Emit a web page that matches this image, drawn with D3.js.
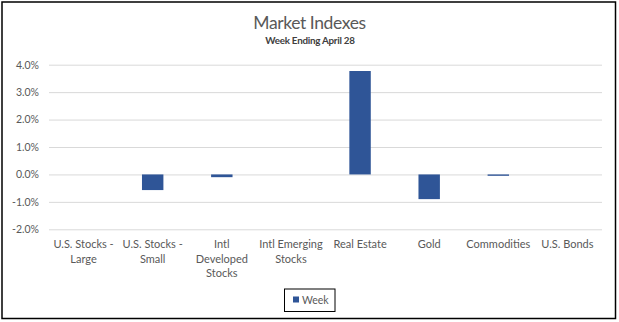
<!DOCTYPE html>
<html>
<head>
<meta charset="utf-8">
<script src="https://cdn.jsdelivr.net/npm/d3@7"></script>
<style>
  html, body { margin: 0; padding: 0; background: #fff; }
  svg { display: block; }
  text { font-family: Lato, "Open Sans", sans-serif; }
</style>
</head>
<body>
<svg id="chart" width="619" height="322"></svg>
<script>
// Weekly returns by asset class (percent)
const categories = [
  "U.S. Stocks - Large",
  "U.S. Stocks - Small",
  "Intl Developed Stocks",
  "Intl Emerging Stocks",
  "Real Estate",
  "Gold",
  "Commodities",
  "U.S. Bonds"
];
const categoryLines = [
  ["U.S. Stocks -", "Large"],
  ["U.S. Stocks -", "Small"],
  ["Intl", "Developed", "Stocks"],
  ["Intl Emerging", "Stocks"],
  ["Real Estate"],
  ["Gold"],
  ["Commodities"],
  ["U.S. Bonds"]
];
const weekValues = [0.0, -0.57, -0.10, 0.0, 3.77, -0.90, -0.05, 0.0];
const yTicks = [-2, -1, 0, 1, 2, 3, 4];
const seriesName = "Week";

const svg = d3.select("#chart");
const plot = { left: 49, right: 602, top: 64.7, bottom: 229.3 };

const x = d3.scaleBand()
  .domain(categories)
  .range([plot.left, plot.right])
  .paddingInner(0.69)
  .paddingOuter(0.345);

const y = d3.scaleLinear()
  .domain([-2, 4])
  .range([plot.bottom, plot.top]);

// outer frame
svg.append("rect")
  .attr("x", 2).attr("y", 2)
  .attr("width", 613.5).attr("height", 316.5)
  .attr("fill", "#fff")
  .attr("stroke", "#000")
  .attr("stroke-width", 1.5);

// titles
svg.append("text")
  .attr("x", 309.5).attr("y", 28.5)
  .attr("text-anchor", "middle")
  .attr("font-size", 17.5)
  .attr("fill", "#595959")
  .attr("letter-spacing", -0.4)
  .text("Market Indexes");

svg.append("text")
  .attr("x", 310).attr("y", 44)
  .attr("text-anchor", "middle")
  .attr("font-size", 9.8)
  .attr("font-weight", "bold")
  .attr("fill", "#404040")
  .attr("letter-spacing", -0.25)
  .text("Week Ending April 28");

// gridlines + y axis labels
const yAxis = d3.axisLeft(y)
  .tickValues(yTicks)
  .tickSize(-(plot.right - plot.left))
  .tickPadding(10)
  .tickFormat(d => d.toFixed(1) + "%");

const gy = svg.append("g")
  .attr("transform", `translate(${plot.left},0)`)
  .call(yAxis);
gy.select(".domain").remove();
gy.selectAll(".tick line").attr("stroke", "#d9d9d9").attr("stroke-width", 1);
gy.selectAll(".tick text")
  .attr("fill", "#595959")
  .attr("font-size", 10.5)
  .attr("font-family", "Lato, sans-serif");

// bars
svg.append("g")
  .selectAll("rect")
  .data(categories)
  .join("rect")
  .attr("x", d => x(d))
  .attr("width", x.bandwidth())
  .attr("y", (d, i) => y(Math.max(0, weekValues[i])))
  .attr("height", (d, i) => Math.abs(y(weekValues[i]) - y(0)))
  .attr("fill", "#2f5597");

// category labels
const gx = svg.append("g");
categories.forEach((c, i) => {
  const cx = x(c) + x.bandwidth() / 2;
  const t = gx.append("text")
    .attr("x", cx)
    .attr("y", 248)
    .attr("text-anchor", "middle")
    .attr("font-size", 11)
    .attr("fill", "#595959");
  categoryLines[i].forEach((line, j) => {
    t.append("tspan")
      .attr("x", cx)
      .attr("dy", j === 0 ? 0 : 14.7)
      .text(line);
  });
});

// legend
const lg = svg.append("g");
lg.append("rect")
  .attr("x", 284.5).attr("y", 289)
  .attr("width", 50.5).attr("height", 22.5)
  .attr("fill", "#fff")
  .attr("stroke", "#000")
  .attr("stroke-width", 1);
lg.append("rect")
  .attr("x", 293).attr("y", 296.5)
  .attr("width", 6).attr("height", 6)
  .attr("fill", "#2f5597");
lg.append("text")
  .attr("x", 302).attr("y", 304)
  .attr("font-size", 10.5)
  .attr("fill", "#595959")
  .text(seriesName);
</script>
</body>
</html>
